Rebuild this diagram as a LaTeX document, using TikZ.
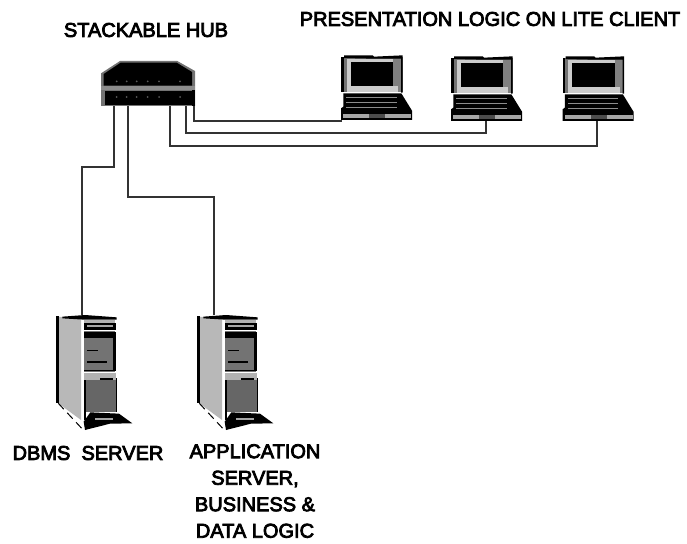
\documentclass[tikz,border=0pt]{standalone}
\usepackage{fontspec}
\setmainfont{Liberation Sans}
\begin{document}
\begin{tikzpicture}[x=1pt,y=-1pt,
  lbl/.style={font=\fontsize{20}{26.5}\selectfont,inner sep=0pt,align=center,text=black,
    execute at begin node={\special{pdf:code 2 Tr 0.8 w}},
    execute at end node={\special{pdf:code 0 Tr}}},
  wire/.style={draw=black!80,line width=1.9pt,line join=miter},
  laptop/.pic={
    \begin{scope}[x=1/3*1pt,y=-1/3*1pt]
    \node[inner sep=0,minimum width=70pt,minimum height=65pt] (-box) at (140,143) {};
    \fill[black!55] (35,50) rectangle (218,155);
    \fill[black!20] (50,58) rectangle (190,155);
    \fill[black!50] (190,58) rectangle (214,155);
    \fill[black!20] (190,138) rectangle (205,155);
    \fill[black] (42,46) -- (128,46) -- (132,50) -- (218,46) -- (218,158) -- (213,158) -- (213,56) -- (130,56) -- (42,54) -- cycle;
    \fill[black] (33,50) rectangle (41,155);
    \fill[black] (62,66) rectangle (190,138);
    \fill[black] (40,160) -- (214,160) -- (246,212) -- (246,240) -- (33,240) -- (33,205) -- (40,200) -- cycle;
    \foreach \yy in {173,188,203}{\fill[black!45] (48,\yy-1.5) rectangle (200,\yy+1.5);}
    \fill[black!35] (40,222) rectangle (243,235);
    \fill[black!70] (118,222) rectangle (165,235);
    \end{scope}
  },
  server/.pic={
    \begin{scope}[x=1/3*1pt,y=-1/3*1pt]
    \node[inner sep=0,minimum width=75pt,minimum height=115pt] (-box) at (148,203) {};
    \fill[black!28] (40,35) -- (108,42) -- (108,345) -- (40,295) -- cycle;
    \fill[black] (34,33) rectangle (41,295);
    \draw[black,line width=1pt,dash pattern=on 8pt off 5pt] (40,295) -- (112,372);
    \fill[black] (52,35) -- (120,30) -- (215,37) -- (215,44) -- (118,44) -- (52,40) -- cycle;
    \fill[black!30] (118,44) rectangle (210,55);
    \fill[black] (118,53) rectangle (214,75);
    \fill[black!35] (125,60) rectangle (205,66);
    \fill[black!55] (118,78) rectangle (210,200);
    \fill[black] (118,82) rectangle (214,100);
    \fill[black] (205,100) rectangle (213,198);
    \fill[black] (118,195) rectangle (213,199);
    \fill[black] (125,134) rectangle (160,139);
    \fill[black] (125,168) rectangle (185,173);
    \fill[black!30] (118,205) rectangle (212,224);
    \fill[black!60] (120,224) rectangle (212,322);
    \fill[black] (165,220) rectangle (205,225);
    \fill[black] (212,218) rectangle (217,322);
    \fill[black] (116,225) rectangle (122,345);
    \fill[black] (116,350) -- (136,322) -- (222,326) -- (262,355) -- (195,356) -- (120,375) -- cycle;
    \fill[black!35] (150,338) rectangle (205,346);
    \end{scope}
  }]
\useasboundingbox (0,0) rectangle (687,543);

% hub
\begin{scope}[shift={(90,40)},x=1/3*1pt,y=-1/3*1pt]
  \node[inner sep=0,minimum width=92pt,minimum height=44pt] (hub) at (175,132) {};
  \fill[black!55] (33,100) -- (90,63) -- (262,63) -- (315,93) -- (315,198) -- (33,198) -- cycle;
  \fill[black] (41,102) -- (92,68) -- (260,68) -- (306,96) -- (306,137) -- (41,137) -- cycle;
  \fill[black] (44,152) rectangle (306,195);
  \fill[black] (306,150) rectangle (316,198);
  \fill[black!45] (33,139) rectangle (315,150);
  \foreach \xx in {80,110,140,173,207,270}{
    \fill[black!65] (\xx,124) circle (3);
    \fill[black!65] (\xx,171) circle (3);}
\end{scope}

\pic (lapa) at (330,40) {laptop};
\pic (lapb) at (440,41) {laptop};
\pic (lapc) at (551.5,41) {laptop};
\pic (srva) at (45,305) {server};
\pic (srvb) at (186,305) {server};

% connector ends
\coordinate (ha) at ([xshift=-34pt]hub.south);
\coordinate (hb) at ([xshift=-20pt]hub.south);
\coordinate (hc) at ([xshift=22pt]hub.south);
\coordinate (hd) at ([xshift=38pt]hub.south);
\coordinate (he) at ([xshift=46pt]hub.south);
\coordinate (ta) at ([xshift=-12.5pt]srva-box.north);
\coordinate (tb) at ([xshift=-21.5pt]srvb-box.north);
\coordinate (la) at ([xshift=-35pt,yshift=-1pt]lapa-box.south);
\coordinate (lb) at ([xshift=-1pt]lapb-box.south);
\coordinate (lc) at ([xshift=-1pt]lapc-box.south);

\draw[wire] (ha) -- ++(0,61) -| (ta);
\draw[wire] (hb) -- ++(0,91) -| (tb);
\draw[wire] (he) |- (la);
\draw[wire] (hd) -- ++(0,27) -| (lb);
\draw[wire] (hc) -- ++(0,40) -| (lc);

\node[lbl] (t1) at (146,30) {STACKABLE HUB};
\node[lbl] (t2) at (490,19) {PRESENTATION LOGIC ON LITE CLIENT};
\node[lbl] (t3) at (88,453) {DBMS\ \ SERVER};
\node[lbl,anchor=north] (t4) at (255,444) {APPLICATION\\SERVER,\\BUSINESS \&\\DATA LOGIC};
\end{tikzpicture}
\end{document}
